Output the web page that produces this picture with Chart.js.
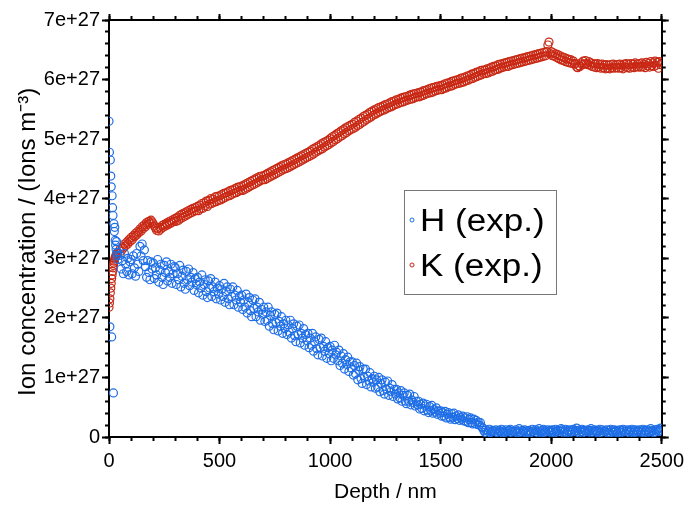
<!DOCTYPE html>
<html>
<head>
<meta charset="utf-8">
<script src="https://cdn.jsdelivr.net/npm/chart.js@4"></script>
<style>
  html, body { margin: 0; padding: 0; background: #fff; }
  #wrap { width: 689px; height: 510px; }
</style>
</head>
<body>
<div id="wrap"><canvas id="chart" width="689" height="510"></canvas></div>
<script>
// depth in nm, concentrations in units of 1e27 ions m^-3
const depth = [
    0, 2, 4, 6, 8, 10, 12, 14, 16, 18, 20, 22, 24, 26, 28, 30, 32, 34, 36, 38, 40,
    50, 55, 60, 65, 70, 75, 80, 85, 90, 95,
    100, 105, 110, 115, 120, 125, 130, 135, 140, 145, 150, 155, 160, 165, 170, 175, 180, 185, 190, 195,
    200, 205, 210, 215, 220, 225, 230, 235, 240, 245, 250, 255, 260, 265, 270, 275, 280, 285, 290, 295,
    300, 305, 310, 315, 320, 325, 330, 335, 340, 345, 350, 355, 360, 365, 370, 375, 380, 385, 390, 395,
    400, 405, 410, 415, 420, 425, 430, 435, 440, 445, 450, 455, 460, 465, 470, 475, 480, 485, 490, 495,
    500, 505, 510, 515, 520, 525, 530, 535, 540, 545, 550, 555, 560, 565, 570, 575, 580, 585, 590, 595,
    600, 605, 610, 615, 620, 625, 630, 635, 640, 645, 650, 655, 660, 665, 670, 675, 680, 685, 690, 695,
    700, 705, 710, 715, 720, 725, 730, 735, 740, 745, 750, 755, 760, 765, 770, 775, 780, 785, 790, 795,
    800, 805, 810, 815, 820, 825, 830, 835, 840, 845, 850, 855, 860, 865, 870, 875, 880, 885, 890, 895,
    900, 905, 910, 915, 920, 925, 930, 935, 940, 945, 950, 955, 960, 965, 970, 975, 980, 985, 990, 995,
    1000, 1005, 1010, 1015, 1020, 1025, 1030, 1035, 1040, 1045, 1050, 1055, 1060, 1065, 1070, 1075, 1080, 1085, 1090, 1095,
    1100, 1105, 1110, 1115, 1120, 1125, 1130, 1135, 1140, 1145, 1150, 1155, 1160, 1165, 1170, 1175, 1180, 1185, 1190, 1195,
    1200, 1205, 1210, 1215, 1220, 1225, 1230, 1235, 1240, 1245, 1250, 1255, 1260, 1265, 1270, 1275, 1280, 1285, 1290, 1295,
    1300, 1305, 1310, 1315, 1320, 1325, 1330, 1335, 1340, 1345, 1350, 1355, 1360, 1365, 1370, 1375, 1380, 1385, 1390, 1395,
    1400, 1405, 1410, 1415, 1420, 1425, 1430, 1435, 1440, 1445, 1450, 1455, 1460, 1465, 1470, 1475, 1480, 1485, 1490, 1495,
    1500, 1505, 1510, 1515, 1520, 1525, 1530, 1535, 1540, 1545, 1550, 1555, 1560, 1565, 1570, 1575, 1580, 1585, 1590, 1595,
    1600, 1605, 1610, 1615, 1620, 1625, 1630, 1635, 1640, 1645, 1650, 1655, 1660, 1665, 1670, 1675, 1680, 1685, 1690, 1695,
    1700, 1705, 1710, 1715, 1720, 1725, 1730, 1735, 1740, 1745, 1750, 1755, 1760, 1765, 1770, 1775, 1780, 1785, 1790, 1795,
    1800, 1805, 1810, 1815, 1820, 1825, 1830, 1835, 1840, 1845, 1850, 1855, 1860, 1865, 1870, 1875, 1880, 1885, 1890, 1895,
    1900, 1905, 1910, 1915, 1920, 1925, 1930, 1935, 1940, 1945, 1950, 1955, 1960, 1965, 1970, 1975, 1980, 1985, 1990, 1995,
    2000, 2005, 2010, 2015, 2020, 2025, 2030, 2035, 2040, 2045, 2050, 2055, 2060, 2065, 2070, 2075, 2080, 2085, 2090, 2095,
    2100, 2105, 2110, 2115, 2120, 2125, 2130, 2135, 2140, 2145, 2150, 2155, 2160, 2165, 2170, 2175, 2180, 2185, 2190, 2195,
    2200, 2205, 2210, 2215, 2220, 2225, 2230, 2235, 2240, 2245, 2250, 2255, 2260, 2265, 2270, 2275, 2280, 2285, 2290, 2295,
    2300, 2305, 2310, 2315, 2320, 2325, 2330, 2335, 2340, 2345, 2350, 2355, 2360, 2365, 2370, 2375, 2380, 2385, 2390, 2395,
    2400, 2405, 2410, 2415, 2420, 2425, 2430, 2435, 2440, 2445, 2450, 2455, 2460, 2465, 2470, 2475, 2480, 2485, 2490, 2495,
    2500
];
const hConc = [
    5.30, 4.78, 1.85, 4.65, 4.38, 4.20, 1.68, 4.05, 3.85, 3.72, 0.74, 3.58, 3.45, 3.52, 3.30, 3.22, 3.15, 3.28, 3.05, 3.10, 2.98,
    3.05, 2.82, 2.96, 2.74, 3.08, 2.90, 2.78, 3.00, 2.72, 2.94,
    2.98, 2.74, 3.04, 2.84, 2.70, 3.08, 2.90, 2.78, 3.20, 3.04, 3.24, 2.96, 3.14, 2.86, 2.68, 2.96, 2.76, 2.64, 2.94, 2.82,
    2.92, 2.66, 2.84, 2.72, 2.98, 2.60, 2.80, 2.90, 2.68, 2.56, 2.88, 2.76, 2.94, 2.62, 2.78, 2.68, 2.90, 2.58, 2.74, 2.86,
    2.84, 2.56, 2.74, 2.64, 2.88, 2.52, 2.70, 2.80, 2.58, 2.48, 2.78, 2.64, 2.82, 2.54, 2.68, 2.60, 2.76, 2.46, 2.66, 2.56,
    2.68, 2.42, 2.60, 2.50, 2.72, 2.38, 2.56, 2.64, 2.44, 2.34, 2.62, 2.50, 2.66, 2.36, 2.52, 2.44, 2.60, 2.32, 2.50, 2.40,
    2.54, 2.30, 2.48, 2.36, 2.58, 2.26, 2.44, 2.52, 2.32, 2.22, 2.48, 2.36, 2.52, 2.22, 2.38, 2.30, 2.46, 2.18, 2.36, 2.26,
    2.38, 2.14, 2.30, 2.18, 2.40, 2.08, 2.26, 2.34, 2.12, 2.02, 2.30, 2.16, 2.32, 2.02, 2.18, 2.10, 2.26, 1.96, 2.14, 2.06,
    2.18, 1.94, 2.10, 1.96, 2.18, 1.86, 2.04, 2.10, 1.90, 1.80, 2.06, 1.92, 2.08, 1.78, 1.94, 1.86, 2.02, 1.74, 1.90, 1.82,
    1.96, 1.72, 1.88, 1.76, 1.96, 1.66, 1.82, 1.90, 1.70, 1.60, 1.86, 1.72, 1.88, 1.58, 1.74, 1.66, 1.82, 1.54, 1.72, 1.62,
    1.74, 1.50, 1.66, 1.54, 1.74, 1.44, 1.60, 1.68, 1.48, 1.38, 1.64, 1.50, 1.66, 1.36, 1.52, 1.44, 1.60, 1.32, 1.50, 1.40,
    1.52, 1.28, 1.46, 1.32, 1.54, 1.38, 1.42, 1.28, 1.46, 1.20, 1.36, 1.24, 1.40, 1.14, 1.30, 1.22, 1.34, 1.10, 1.26, 1.16,
    1.26, 1.04, 1.20, 1.06, 1.24, 0.96, 1.12, 1.18, 0.98, 0.90, 1.14, 1.00, 1.14, 0.88, 1.02, 0.94, 1.08, 0.84, 0.98, 0.92,
    1.02, 0.82, 0.96, 0.84, 1.00, 0.76, 0.90, 0.96, 0.78, 0.72, 0.92, 0.80, 0.94, 0.70, 0.82, 0.76, 0.88, 0.68, 0.80, 0.72,
    0.80, 0.64, 0.74, 0.66, 0.78, 0.60, 0.70, 0.74, 0.60, 0.56, 0.70, 0.60, 0.72, 0.54, 0.62, 0.58, 0.68, 0.52, 0.60, 0.54,
    0.60, 0.47, 0.55, 0.48, 0.57, 0.44, 0.52, 0.55, 0.45, 0.41, 0.51, 0.44, 0.53, 0.40, 0.46, 0.42, 0.49, 0.38, 0.44, 0.40,
    0.44, 0.35, 0.41, 0.35, 0.43, 0.32, 0.38, 0.41, 0.33, 0.30, 0.39, 0.33, 0.40, 0.29, 0.35, 0.31, 0.37, 0.28, 0.33, 0.30,
    0.35, 0.27, 0.32, 0.26, 0.34, 0.24, 0.29, 0.32, 0.24, 0.22, 0.30, 0.23, 0.28, 0.21, 0.25, 0.20, 0.24, 0.17, 0.15, 0.11,
    0.08, 0.12, 0.06, 0.10, 0.13, 0.07, 0.09, 0.11, 0.05, 0.10, 0.12, 0.08, 0.06, 0.11, 0.09, 0.13, 0.07, 0.10, 0.08, 0.12,
    0.09, 0.06, 0.11, 0.13, 0.08, 0.10, 0.05, 0.09, 0.12, 0.07, 0.10, 0.14, 0.08, 0.06, 0.11, 0.09, 0.12, 0.07, 0.10, 0.08,
    0.11, 0.07, 0.09, 0.13, 0.10, 0.06, 0.12, 0.08, 0.10, 0.14, 0.09, 0.07, 0.11, 0.13, 0.08, 0.10, 0.06, 0.12, 0.09, 0.11,
    0.08, 0.12, 0.10, 0.07, 0.13, 0.09, 0.11, 0.06, 0.10, 0.14, 0.12, 0.08, 0.10, 0.13, 0.07, 0.11, 0.09, 0.12, 0.08, 0.10,
    0.13, 0.09, 0.11, 0.15, 0.10, 0.07, 0.12, 0.09, 0.13, 0.08, 0.11, 0.10, 0.06, 0.12, 0.09, 0.11, 0.14, 0.08, 0.10, 0.12,
    0.09, 0.11, 0.07, 0.10, 0.13, 0.08, 0.12, 0.06, 0.10, 0.09, 0.12, 0.08, 0.11, 0.07, 0.13, 0.10, 0.08, 0.12, 0.09, 0.11,
    0.07, 0.10, 0.12, 0.08, 0.11, 0.13, 0.09, 0.06, 0.10, 0.12, 0.08, 0.11, 0.09, 0.13, 0.07, 0.10, 0.12, 0.08, 0.11, 0.09,
    0.12, 0.08, 0.10, 0.13, 0.07, 0.11, 0.09, 0.12, 0.08, 0.10, 0.14, 0.09, 0.11, 0.07, 0.12, 0.10, 0.13, 0.09, 0.11, 0.15,
    0.14
];
const kConc = [
    2.18, 2.25, 2.32, 2.42, 2.50, 2.58, 2.66, 2.72, 2.78, 2.84, 2.88, 2.92, 2.95, 2.99, 3.01, 3.03, 3.05, 3.06, 3.08, 3.09, 3.10,
    3.15, 3.12, 3.19, 3.17, 3.24, 3.21, 3.27, 3.24, 3.31, 3.28,
    3.35, 3.31, 3.38, 3.36, 3.42, 3.39, 3.45, 3.43, 3.49, 3.46, 3.53, 3.50, 3.56, 3.53, 3.60, 3.57, 3.62, 3.59, 3.64, 3.61,
    3.58, 3.54, 3.51, 3.47, 3.50, 3.46, 3.52, 3.49, 3.55, 3.52, 3.57, 3.54, 3.59, 3.56, 3.61, 3.58, 3.63, 3.60, 3.65, 3.62,
    3.67, 3.62, 3.69, 3.64, 3.72, 3.67, 3.74, 3.69, 3.76, 3.71, 3.78, 3.73, 3.80, 3.75, 3.82, 3.77, 3.84, 3.79, 3.85, 3.80,
    3.87, 3.80, 3.89, 3.83, 3.92, 3.84, 3.93, 3.88, 3.96, 3.87, 3.97, 3.91, 4.00, 3.92, 3.99, 3.94, 4.03, 3.95, 4.04, 3.97,
    4.05, 3.98, 4.07, 4.00, 4.09, 4.02, 4.10, 4.04, 4.12, 4.05, 4.14, 4.07, 4.15, 4.09, 4.17, 4.10, 4.19, 4.12, 4.20, 4.14,
    4.21, 4.14, 4.23, 4.16, 4.25, 4.18, 4.27, 4.20, 4.29, 4.22, 4.31, 4.24, 4.33, 4.26, 4.35, 4.28, 4.37, 4.30, 4.38, 4.32,
    4.39, 4.32, 4.41, 4.34, 4.43, 4.36, 4.45, 4.38, 4.47, 4.40, 4.49, 4.42, 4.51, 4.44, 4.53, 4.46, 4.55, 4.48, 4.57, 4.50,
    4.58, 4.51, 4.60, 4.53, 4.62, 4.55, 4.64, 4.57, 4.66, 4.59, 4.68, 4.61, 4.70, 4.63, 4.72, 4.65, 4.74, 4.67, 4.76, 4.69,
    4.78, 4.71, 4.80, 4.73, 4.83, 4.75, 4.85, 4.78, 4.87, 4.80, 4.89, 4.82, 4.92, 4.84, 4.94, 4.87, 4.96, 4.89, 4.98, 4.91,
    5.01, 4.94, 5.04, 4.96, 5.06, 4.99, 5.09, 5.01, 5.11, 5.04, 5.14, 5.06, 5.16, 5.09, 5.19, 5.11, 5.21, 5.14, 5.23, 5.16,
    5.25, 5.18, 5.28, 5.20, 5.30, 5.23, 5.33, 5.25, 5.35, 5.28, 5.38, 5.30, 5.40, 5.33, 5.42, 5.35, 5.45, 5.37, 5.47, 5.40,
    5.49, 5.42, 5.51, 5.44, 5.53, 5.46, 5.54, 5.48, 5.56, 5.49, 5.58, 5.51, 5.59, 5.53, 5.61, 5.54, 5.63, 5.56, 5.64, 5.58,
    5.66, 5.59, 5.67, 5.61, 5.69, 5.62, 5.70, 5.63, 5.71, 5.65, 5.72, 5.66, 5.74, 5.67, 5.75, 5.68, 5.76, 5.70, 5.77, 5.71,
    5.78, 5.71, 5.79, 5.73, 5.81, 5.74, 5.82, 5.76, 5.83, 5.77, 5.85, 5.78, 5.86, 5.79, 5.87, 5.81, 5.88, 5.82, 5.89, 5.83,
    5.90, 5.83, 5.91, 5.85, 5.93, 5.86, 5.94, 5.88, 5.95, 5.89, 5.97, 5.90, 5.98, 5.92, 5.99, 5.93, 6.00, 5.94, 6.02, 5.95,
    6.03, 5.96, 6.04, 5.98, 6.06, 5.99, 6.07, 6.01, 6.09, 6.02, 6.10, 6.04, 6.12, 6.05, 6.13, 6.07, 6.15, 6.08, 6.16, 6.10,
    6.16, 6.10, 6.18, 6.11, 6.19, 6.13, 6.21, 6.14, 6.22, 6.16, 6.23, 6.17, 6.25, 6.18, 6.26, 6.20, 6.27, 6.21, 6.28, 6.22,
    6.29, 6.22, 6.30, 6.24, 6.31, 6.25, 6.32, 6.26, 6.33, 6.27, 6.34, 6.28, 6.35, 6.29, 6.36, 6.30, 6.37, 6.31, 6.38, 6.32,
    6.39, 6.33, 6.40, 6.34, 6.41, 6.35, 6.42, 6.36, 6.43, 6.37, 6.44, 6.38, 6.45, 6.39, 6.46, 6.40, 6.47, 6.58, 6.63, 6.43,
    6.47, 6.40, 6.45, 6.39, 6.43, 6.37, 6.42, 6.35, 6.40, 6.33, 6.38, 6.32, 6.37, 6.30, 6.35, 6.29, 6.34, 6.28, 6.33, 6.27,
    6.31, 6.26, 6.27, 6.21, 6.20, 6.23, 6.22, 6.28, 6.25, 6.31, 6.26, 6.32, 6.27, 6.25, 6.30, 6.24, 6.28, 6.22, 6.27, 6.21,
    6.26, 6.20, 6.27, 6.21, 6.25, 6.19, 6.26, 6.20, 6.24, 6.18, 6.25, 6.19, 6.24, 6.18, 6.25, 6.20, 6.26, 6.19, 6.24, 6.20,
    6.25, 6.19, 6.26, 6.20, 6.24, 6.18, 6.26, 6.21, 6.27, 6.20, 6.25, 6.19, 6.27, 6.21, 6.26, 6.20, 6.28, 6.22, 6.26, 6.21,
    6.27, 6.21, 6.28, 6.22, 6.26, 6.20, 6.29, 6.23, 6.27, 6.21, 6.30, 6.23, 6.28, 6.22, 6.31, 6.24, 6.29, 6.19, 6.30, 6.25,
    6.28
];
const seriesLabels = ['H (exp.)', 'K (exp.)'];
const xTitle = 'Depth / nm';
// trailing spaces nudge the centred title down a little, as in the original
const yTitle = 'Ion concentration / (Ions m\u207B\u00B3)    ';

const FONT = "'Liberation Sans', Arial, sans-serif";
const hColor = '#1e6ee6';
const kColor = '#c82814';

// legend drawn inside the plot, like the original figure
const boxLegend = {
    id: 'boxLegend',
    afterDraw(chart) {
        const ctx = chart.ctx;
        const x = 404, y = 190, w = 152, h = 104;
        ctx.save();
        ctx.fillStyle = '#fff';
        ctx.fillRect(x, y, w, h);
        ctx.strokeStyle = '#777';
        ctx.lineWidth = 1;
        ctx.strokeRect(x + 0.5, y + 0.5, w, h);
        chart.data.datasets.forEach((ds, i) => {
            const base = y + 41 + i * 45;
            ctx.beginPath();
            ctx.arc(412, base - 11, 2, 0, Math.PI * 2);
            ctx.strokeStyle = ds.borderColor;
            ctx.stroke();
            ctx.save();
            ctx.translate(420, base);
            ctx.scale(1.13, 1);
            ctx.fillStyle = '#000';
            ctx.font = '31px ' + FONT;
            ctx.textBaseline = 'alphabetic';
            ctx.fillText(ds.label, 0, 0);
            ctx.restore();
        });
        ctx.restore();
    }
};

function points(ys) {
    return depth.map((d, i) => ({x: d, y: ys[i]}));
}

// one scale per side and tick size: majors carry labels, minors are 0 px wide
function axis(position, min, max, step, tickLength, size, weight, extra) {
    const horizontal = position == 'top' || position == 'bottom';
    return Object.assign({
        type: 'linear',
        position: position,
        min: min,
        max: max,
        weight: weight,
        ticks: {stepSize: step, display: false},
        grid: {drawOnChartArea: false, drawTicks: true, tickLength: tickLength, tickColor: '#000', tickWidth: 2},
        border: {display: weight > 0, color: '#000', width: 2},
        afterFit: (s) => { if(horizontal) s.height = size; else s.width = size; }
    }, extra || {});
}

new Chart(document.getElementById('chart'), {
    type: 'scatter',
    data: {
        datasets: [
            {label: seriesLabels[0], data: points(hConc), borderColor: hColor, backgroundColor: 'rgba(0,0,0,0)', pointRadius: 4, borderWidth: 1.2},
            {label: seriesLabels[1], data: points(kConc), borderColor: kColor, backgroundColor: 'rgba(0,0,0,0)', pointRadius: 4, borderWidth: 1.2}
        ]
    },
    options: {
        responsive: false,
        animation: false,
        layout: {padding: 0, autoPadding: false},
        plugins: {legend: {display: false}, tooltip: {enabled: false}},
        scales: {
            x: axis('bottom', 0, 2500, 500, 7, 73, 1, {
                ticks: {stepSize: 500, autoSkip: false, maxRotation: 0, padding: 5, color: '#000', font: {family: FONT, size: 20},
                    callback: (v) => String(v)},
                title: {display: true, text: xTitle, color: '#000', font: {family: FONT, size: 21}, padding: {top: 0, bottom: 5}}
            }),
            xMinor: axis('bottom', 0, 2500, 100, 4, 0, 0),
            xTop: axis('top', 0, 2500, 500, 6, 20, 1),
            xTopMinor: axis('top', 0, 2500, 100, 4, 0, 0),
            y: axis('left', 0, 7, 1, 7, 109, 1, {
                ticks: {stepSize: 1, padding: 2, color: '#000', font: {family: FONT, size: 20},
                    callback: (v) => v === 0 ? '0' : v + 'e+27'},
                title: {display: true, text: yTitle, color: '#000', font: {family: FONT, size: 24}, padding: {top: 14, bottom: 0}}
            }),
            yMinor: axis('left', 0, 7, 0.2, 4, 0, 0),
            yRight: axis('right', 0, 7, 1, 7, 24, 1),
            yRightMinor: axis('right', 0, 7, 0.2, 4, 0, 0)
        }
    },
    plugins: [boxLegend]
});
</script>
</body>
</html>
